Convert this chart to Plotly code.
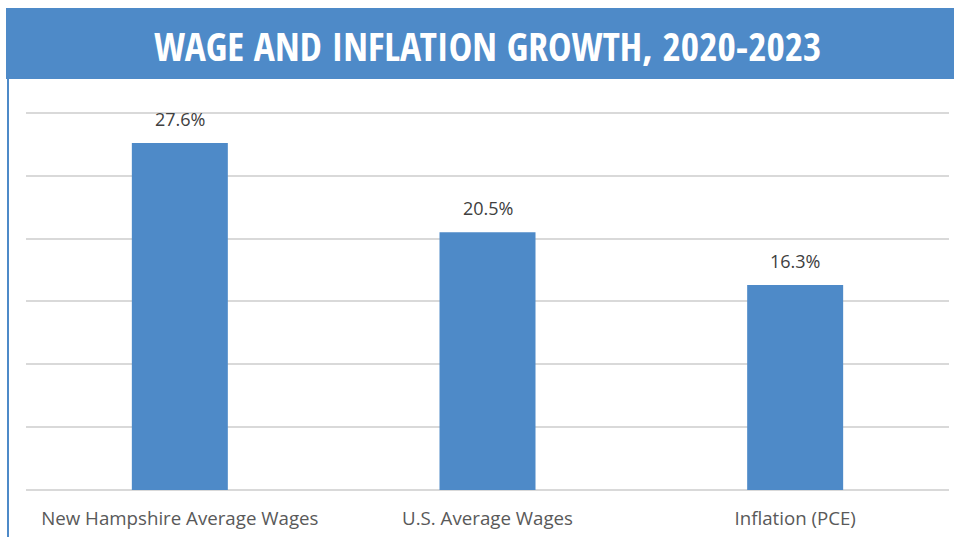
import plotly.graph_objects as go

categories = ["New Hampshire Average Wages", "U.S. Average Wages", "Inflation (PCE)"]
values = [27.6, 20.5, 16.3]
labels = ["27.6%", "20.5%", "16.3%"]
title_text = "WAGE AND INFLATION GROWTH, 2020-2023"

BLUE = "#4E8AC8"
W, H = 954, 537
L, R, T, B = 26, 5, 109, 47
pw, ph = W - L - R, H - T - B

def px_x(p):
    return (p - L) / pw

def px_y(p):
    return (H - B - p) / ph

fig = go.Figure()
fig.add_trace(go.Bar(x=categories, y=values, marker=dict(color=BLUE, line=dict(width=0)),
                     hoverinfo="skip"))

for c, v, t in zip(categories, values, labels):
    fig.add_annotation(x=c, y=v, text=t, showarrow=False, yanchor="bottom", yshift=10,
                       font=dict(family="Open Sans, Liberation Sans, sans-serif", size=18, color="#404040"))

fig.add_shape(type="rect", xref="paper", yref="paper", x0=px_x(6), x1=px_x(956),
              y0=px_y(79), y1=px_y(8), fillcolor=BLUE, line=dict(width=0), layer="above")
fig.add_shape(type="line", xref="paper", yref="paper", x0=px_x(8), x1=px_x(8),
              y0=px_y(79), y1=px_y(540), line=dict(color=BLUE, width=2))
fig.add_annotation(xref="paper", yref="paper", x=px_x(487), y=px_y(46), text="<b>" + title_text + "</b>",
                   showarrow=False, xanchor="center", yanchor="middle",
                   font=dict(family="Open Sans Condensed, Roboto Condensed, sans-serif", size=39.5, color="white"))

fig.update_layout(
    width=W, height=H, margin=dict(l=L, r=R, t=T, b=B),
    paper_bgcolor="white", plot_bgcolor="white", showlegend=False, bargap=0.688,
    xaxis=dict(showgrid=False, showline=False, ticks="", ticklabelstandoff=15,
               tickfont=dict(family="Open Sans, Liberation Sans, sans-serif", size=18.7, color="#595959")),
    yaxis=dict(range=[0, 30.3], tickvals=[0, 5, 10, 15, 20, 25, 30], showticklabels=False, showgrid=True,
               gridcolor="#d9d9d9", gridwidth=1.5, zeroline=True, zerolinecolor="#d9d9d9",
               zerolinewidth=1.5, showline=False),
)

fig.write_html("out.html")
